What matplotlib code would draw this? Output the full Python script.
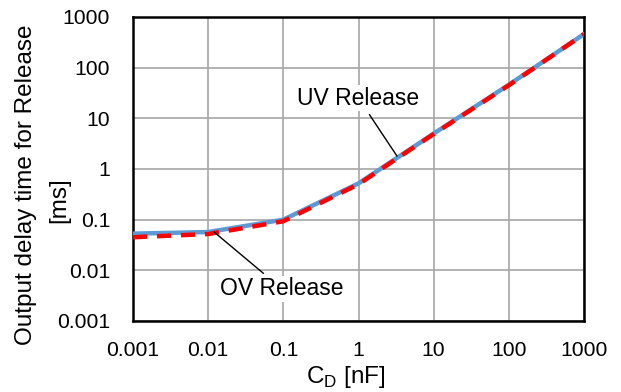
import matplotlib
matplotlib.use("Agg")
import matplotlib.pyplot as plt
from matplotlib.ticker import FixedLocator, FixedFormatter, NullLocator

plt.rcParams['font.family'] = ['Liberation Sans', 'DejaVu Sans']

cd_nf = [0.001, 0.01, 0.1, 1, 10, 100, 1000]
uv_release_ms = [0.053, 0.057, 0.10, 0.52, 5.0, 46, 460]
ov_release_ms = [0.045, 0.052, 0.093, 0.50, 4.9, 45, 460]
tick_vals = [0.001, 0.01, 0.1, 1, 10, 100, 1000]
tick_labels = ['0.001', '0.01', '0.1', '1', '10', '100', '1000']

W, H = 621, 392
TICK_FS = 15.2
LABEL_FS = 17.5
ANN_FS = 16.5
fig = plt.figure(figsize=(W/100, H/100), dpi=100)
ax = fig.add_axes([133/W, 1 - 321/H, (584-133)/W, (321-17)/H])

ax.plot(cd_nf, uv_release_ms, color='#5b9bd5', lw=3.2, solid_capstyle='round', zorder=3)
ax.plot(cd_nf, ov_release_ms, color='#ff0000', lw=3.2, dashes=(3.2, 2.2), zorder=4)

ax.set_xscale('log')
ax.set_yscale('log')
ax.set_xlim(0.001, 1000)
ax.set_ylim(0.001, 1000)
for axis in (ax.xaxis, ax.yaxis):
    axis.set_major_locator(FixedLocator(tick_vals))
    axis.set_major_formatter(FixedFormatter(tick_labels))
    axis.set_minor_locator(NullLocator())
ax.tick_params(axis='y', length=0, labelsize=TICK_FS, pad=16.5)
ax.tick_params(axis='x', length=0, labelsize=TICK_FS, pad=14.5)
ax.grid(True, color='#a6a6a6', lw=1.2)
ax.set_axisbelow(True)
for s in ax.spines.values():
    s.set_linewidth(1.8)
    s.set_color('black')

fig.text(346/W, 1 - 377/H, 'C$_\\mathregular{D}$ [nF]', fontsize=LABEL_FS,
         ha='center', va='center')
fig.text(26/W, 1 - 185/H, 'Output delay time for Release', fontsize=LABEL_FS,
         ha='center', va='center', rotation=90)
fig.text(59/W, 1 - 200/H, '[ms]', fontsize=LABEL_FS,
         ha='center', va='center', rotation=90)

bbox = dict(facecolor='white', edgecolor='none', pad=1)
ax.annotate('UV Release', xy=(3.25, 1.8), xytext=(1.0, 25),
            fontsize=ANN_FS, ha='center', va='center', bbox=bbox,
            arrowprops=dict(arrowstyle='-', color='black', lw=1, shrinkA=3, shrinkB=0), zorder=5)
ax.annotate('OV Release', xy=(0.012, 0.057), xytext=(0.096, 0.0043),
            fontsize=ANN_FS, ha='center', va='center', bbox=bbox,
            arrowprops=dict(arrowstyle='-', color='black', lw=1, shrinkA=3, shrinkB=0), zorder=5)

fig.savefig('out.png', dpi=100)
